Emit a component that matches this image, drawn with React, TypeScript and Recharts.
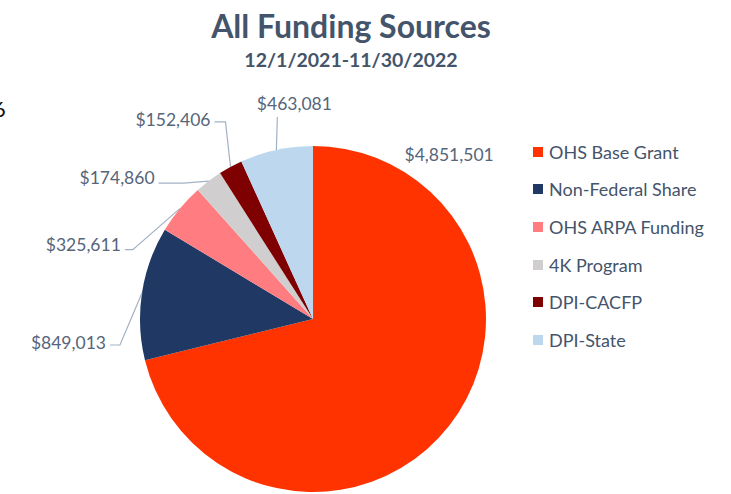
import React from "react";
import { PieChart, Pie, Cell } from "recharts";

const SOURCES = ["OHS Base Grant", "Non-Federal Share", "OHS ARPA Funding", "4K Program", "DPI-CACFP", "DPI-State"];
const AMOUNTS = [4851501, 849013, 325611, 174860, 152406, 463081];
const COLORS = ["#FF3300", "#1F3864", "#FF7C80", "#D0CECE", "#7F0000", "#BDD7EE"];

// label placement relative to the slice's outer edge point (Excel "best fit" look)
// b = bend of the leader line, t = text anchor; line: false for no leader
const LABEL_LAYOUT = [
  { bx: 0, by: 0, tx: 0, ty: -271, anchor: "middle", line: false },
  { bx: -22, by: 52, tx: -36, ty: 49, anchor: "end", line: true },
  { bx: -47, by: 41, tx: -59, ty: 36, anchor: "end", line: true },
  { bx: -25, by: 2, tx: -54, ty: -4, anchor: "end", line: true },
  { bx: -5, by: -45, tx: -20, ty: -47, anchor: "end", line: true },
  { bx: 1, by: -33, tx: 18, ty: -46, anchor: "middle", line: false },
];

const data = SOURCES.map((name, i) => ({ name, value: AMOUNTS[i] }));

const TEXT = "#44546A";
const LABEL = "#56657A";
const LEADER = "#A3B1C4";
const FONT = "Lato, 'Open Sans', sans-serif";
const RADIAN = Math.PI / 180;

const fmt = (n: number) => "$" + n.toLocaleString("en-US");

function renderLabel(props: any) {
  const { cx, cy, midAngle, outerRadius, index, value } = props;
  const ex = cx + outerRadius * Math.cos(-midAngle * RADIAN);
  const ey = cy + outerRadius * Math.sin(-midAngle * RADIAN);
  const l = LABEL_LAYOUT[index];
  const bx = ex + l.bx;
  const by = ey + l.by;
  const tx = ex + l.tx;
  const ty = ey + l.ty;
  let pts = "";
  if (index === 5) pts = `${ex},${ey} ${bx},${by}`;
  else if (l.line) pts = `${ex},${ey} ${bx},${by} ${tx + 4},${by}`;
  return (
    <g key={`lbl-${index}`}>
      {pts && <polyline points={pts} fill="none" stroke={LEADER} strokeWidth={1.2} />}
      <text
        x={tx}
        y={ty}
        textAnchor={l.anchor}
        dominantBaseline="central"
        fill={LABEL}
        fontSize={17.5}
        fontFamily={FONT}
      >
        {fmt(value)}
      </text>
    </g>
  );
}

export default function App() {
  return (
    <div style={{ position: "absolute", left: 0, top: 0, width: 731, height: 494, background: "#fff", overflow: "hidden" }}>
      <div style={{ position: "absolute", left: 0, top: 0, width: 702, textAlign: "center", fontFamily: FONT, color: TEXT }}>
        <div style={{ fontSize: 32, fontWeight: 700, lineHeight: "36px", marginTop: 8 }}>All Funding Sources</div>
        <div style={{ fontSize: 19.5, fontWeight: 700, lineHeight: "24px", marginTop: 4 }}>12/1/2021-11/30/2022</div>
      </div>
      <div style={{ position: "absolute", left: -7, top: 95, fontFamily: FONT, fontSize: 22, color: "#111" }}>6</div>
      <PieChart
        width={731}
        height={494}
        margin={{ top: 0, right: 0, bottom: 0, left: 0 }}
        style={{ position: "absolute", left: 0, top: 0 }}
      >
        <Pie
          data={data}
          dataKey="value"
          nameKey="name"
          cx={313}
          cy={319}
          outerRadius={173}
          startAngle={90}
          endAngle={-270}
          stroke="none"
          label={renderLabel}
          labelLine={false}
          isAnimationActive={false}
        >
          {data.map((d, i) => (
            <Cell key={d.name} fill={COLORS[i]} />
          ))}
        </Pie>
      </PieChart>
      <div style={{ position: "absolute", left: 533, top: 133, width: 195, fontFamily: FONT }}>
        {SOURCES.map((s, i) => (
          <div key={s} style={{ display: "flex", alignItems: "center", height: 37.6 }}>
            <span style={{ width: 10, height: 10, background: COLORS[i], display: "inline-block", marginRight: 6, flex: "none" }} />
            <span style={{ color: TEXT, fontSize: 18, whiteSpace: "nowrap" }}>{s}</span>
          </div>
        ))}
      </div>
    </div>
  );
}
